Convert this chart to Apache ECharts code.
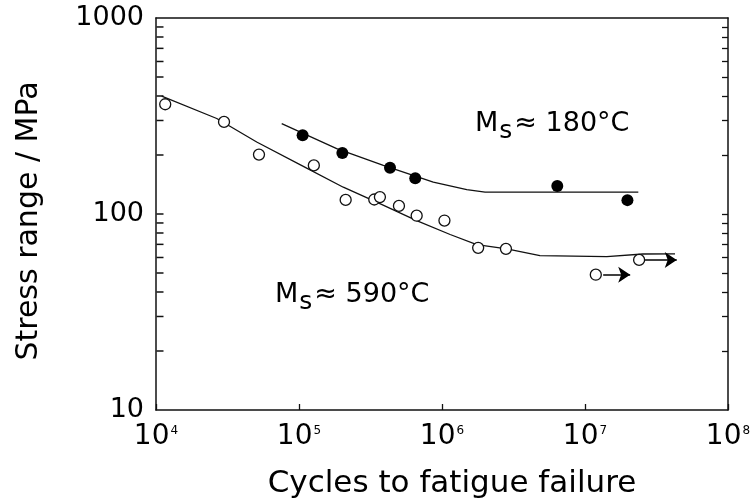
<!DOCTYPE html>
<html>
<head>
<meta charset="utf-8">
<script src="https://cdn.jsdelivr.net/npm/echarts@6/dist/echarts.min.js"></script>
<style>
html, body { margin: 0; padding: 0; background: #fff; }
#chart-container { width: 754px; height: 499px; }
</style>
</head>
<body>
<div id="chart-container"></div>
<script>
// Open circles, Ms ~ 590 C : [cycles, stress range MPa]
var ms590Points = [
	[11600, 363], [29900, 295], [52500, 201], [127000, 177], [212000, 118],
	[336000, 118.6], [368000, 122], [500000, 110], [665000, 98], [1040000, 92.6],
	[1790000, 67.2], [2800000, 66.4], [11900000, 49], [23900000, 58.3]
];
// Filled circles, Ms ~ 180 C
var ms180Points = [
	[106000, 252], [201000, 205], [433000, 172], [650000, 152],
	[6400000, 139], [19800000, 117.7]
];
// fitted curves
var ms590Curve = [
	[10960, 399], [26600, 307], [50600, 233], [107200, 175], [204000, 137],
	[349000, 114.9], [665000, 92.6], [1140000, 78.6], [1750000, 69.8],
	[2840000, 66.4], [4840000, 61.3], [14200000, 60.6], [25400000, 62.5], [42600000, 62.6]
];
var ms180Curve = [
	[75700, 289], [183500, 215.6], [388800, 177], [869000, 145.4],
	[1490000, 133], [2000000, 129.3], [23600000, 129.3]
];
// run-out arrows (start, end)
var runoutArrows = [
	[[13400000, 49], [20700000, 49]],
	[[26300000, 58.3], [43800000, 58.3]]
];
var yTickValues = [20, 30, 40, 50, 60, 70, 80, 90, 100, 200, 300, 400, 500, 600, 700, 800, 900];
var xMin = 1e4;

var dom = document.getElementById('chart-container');
var myChart = echarts.init(dom, null, { renderer: 'canvas' });

var axisLine = { show: true, onZero: false, lineStyle: { color: '#111', width: 1.5 } };
var font = 'DejaVu Sans';

var option = {
	backgroundColor: '#fff',
	animation: false,
	textStyle: { fontFamily: font, color: '#000' },
	grid: { left: 156, right: 26, top: 18, bottom: 89, outerBoundsMode: 'none', containLabel: false },
	xAxis: [
		{
			type: 'log',
			logBase: 10,
			min: 1e4,
			max: 1e8,
			interval: 1,
			axisLine: axisLine,
			axisTick: { show: true, inside: true, length: 6, lineStyle: { color: '#111', width: 1.3 } },
			splitLine: { show: false },
			axisLabel: {
				margin: 13,
				formatter: function (v) {
					return '{b|10}{s|' + Math.round(Math.log10(v)) + '}';
				},
				rich: {
					b: { fontFamily: font, fontSize: 28, color: '#000', verticalAlign: 'top', lineHeight: 30 },
					s: { fontFamily: font, fontSize: 12, color: '#000', verticalAlign: 'top', lineHeight: 14, padding: [2, 0, 0, 1] }
				}
			},
			name: 'Cycles to fatigue failure',
			nameLocation: 'middle',
			nameGap: 58,
			nameTextStyle: { fontFamily: font, fontSize: 31, color: '#000', padding: [0, 0, 0, 20] }
		},
		{
			type: 'log',
			position: 'top',
			min: 1e4,
			max: 1e8,
			axisLine: axisLine,
			axisTick: { show: false },
			axisLabel: { show: false },
			splitLine: { show: false }
		}
	],
	yAxis: [
		{
			type: 'log',
			logBase: 10,
			position: 'left',
			min: 10,
			max: 1000,
			interval: 1,
			axisLine: axisLine,
			axisTick: { show: false },
			splitLine: { show: false },
			axisLabel: {
				fontFamily: font, fontSize: 27, color: '#000', margin: 12,
				formatter: function (v) { return String(Math.round(v)); }
			},
			name: 'Stress range / MPa',
			nameLocation: 'middle',
			nameGap: 112,
			nameTextStyle: { fontFamily: font, fontSize: 30, color: '#000', padding: [0, 14, 0, 0] }
		},
		{
			type: 'log',
			position: 'right',
			min: 10,
			max: 1000,
			axisLine: axisLine,
			axisTick: { show: true, inside: true, length: 6, customValues: yTickValues, lineStyle: { color: '#111', width: 1.3 } },
			axisLabel: { show: false },
			splitLine: { show: false }
		}
	],
	graphic: [
		{
			type: 'text',
			left: 475,
			top: 110,
			style: {
				text: '{m|M}{s|s}{t|≈ 180°C}',
				rich: {
					m: { fontFamily: font, fontSize: 27, fill: '#000', verticalAlign: 'top', lineHeight: 28 },
					s: { fontFamily: font, fontSize: 25, fill: '#000', verticalAlign: 'top', lineHeight: 28, padding: [9, 2, 0, 1] },
					t: { fontFamily: font, fontSize: 27, fill: '#000', verticalAlign: 'top', lineHeight: 28 }
				}
			}
		},
		{
			type: 'text',
			left: 275,
			top: 281,
			style: {
				text: '{m|M}{s|s}{t|≈ 590°C}',
				rich: {
					m: { fontFamily: font, fontSize: 27, fill: '#000', verticalAlign: 'top', lineHeight: 28 },
					s: { fontFamily: font, fontSize: 25, fill: '#000', verticalAlign: 'top', lineHeight: 28, padding: [9, 2, 0, 1] },
					t: { fontFamily: font, fontSize: 27, fill: '#000', verticalAlign: 'top', lineHeight: 28 }
				}
			}
		}
	],
	series: [
		{
			// minor ticks on the left frame: thin rects placed through the y scale
			name: 'left ticks',
			type: 'scatter',
			silent: true,
			clip: false,
			data: yTickValues.map(function (v) { return [xMin, v]; }),
			symbol: 'rect',
			symbolSize: [7, 1.5],
			symbolOffset: [4, 0],
			itemStyle: { color: '#111', opacity: 1 },
			z: 10
		},
		{
			name: 'Ms 590 curve',
			type: 'line',
			data: ms590Curve,
			smooth: false,
			showSymbol: false,
			lineStyle: { color: '#111', width: 1.3 },
			z: 2
		},
		{
			name: 'Ms 180 curve',
			type: 'line',
			data: ms180Curve,
			smooth: false,
			showSymbol: false,
			lineStyle: { color: '#111', width: 1.3 },
			z: 2
		},
		{
			name: 'Ms 590',
			type: 'scatter',
			data: ms590Points,
			symbol: 'circle',
			symbolSize: 11,
			itemStyle: { color: '#fff', borderColor: '#111', borderWidth: 1.3, opacity: 1 },
			z: 3
		},
		{
			name: 'Ms 180',
			type: 'scatter',
			data: ms180Points,
			symbol: 'circle',
			symbolSize: 12,
			itemStyle: { color: '#000', opacity: 1 },
			z: 3
		},
		{
			name: 'run-out',
			type: 'lines',
			coordinateSystem: 'cartesian2d',
			symbol: ['none', 'arrow'],
			symbolSize: [0, 12],
			lineStyle: { color: '#000', width: 1.6, opacity: 1 },
			data: runoutArrows.map(function (c) { return { coords: c }; }),
			z: 3
		}
	]
};

myChart.setOption(option);
window.addEventListener('resize', myChart.resize);
</script>
</body>
</html>
